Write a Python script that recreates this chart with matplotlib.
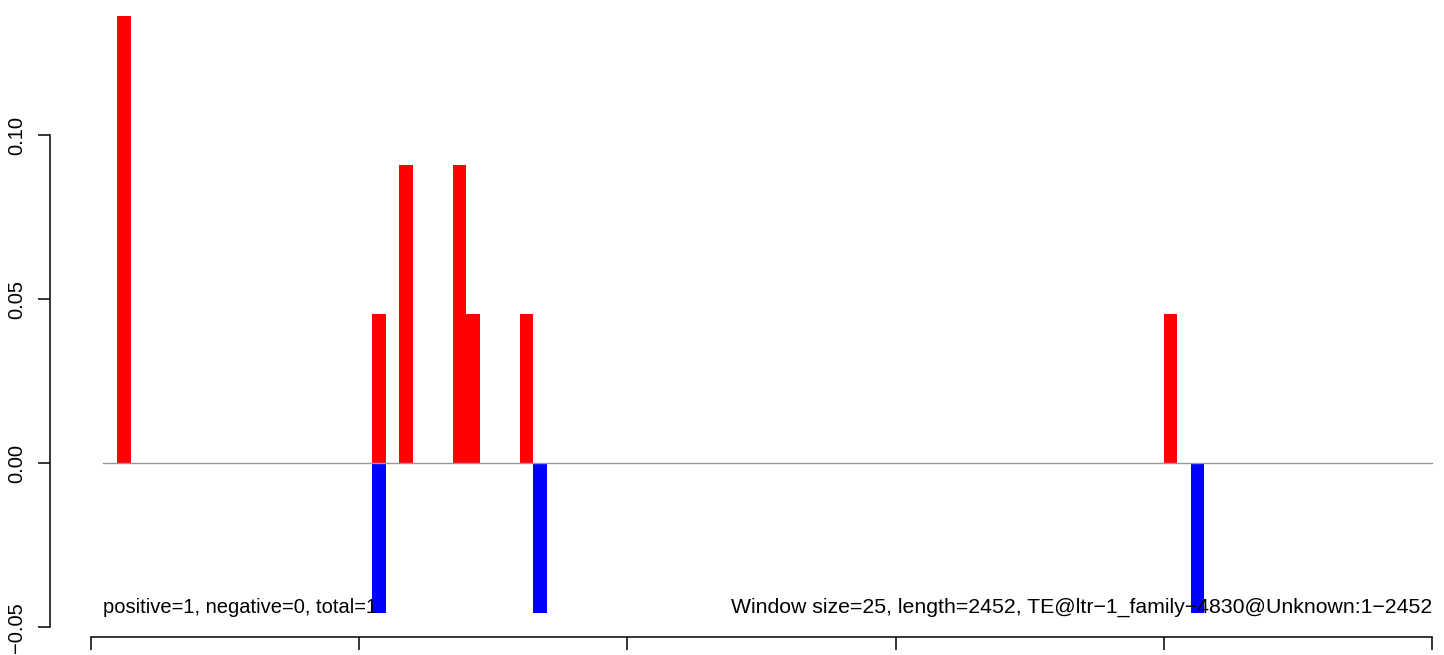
import numpy as np
import matplotlib
matplotlib.use("Agg")
import matplotlib.pyplot as plt

plt.rcParams['font.family'] = ['Liberation Sans', 'DejaVu Sans']

window = 25
length = 2452
# left edge of each window and its score
pos_start = [50, 525, 575, 675, 700, 800, 2000]
pos_value = [3/22, 1/22, 2/22, 2/22, 1/22, 1/22, 1/22]
neg_start = [525, 825, 2050]
neg_value = [1/22, 1/22, 1/22]

x_ticks = [0, 500, 1000, 1500, 2000, 2500]
y_ticks = [-0.05, 0.00, 0.05, 0.10]
y_labels = ['\u22120.05', '0.00', '0.05', '0.10']

left_text = 'positive=1, negative=0, total=1'
right_text = ('Window size=25, length=2452, '
              'TE@ltr\u22121_family\u22124830@Unknown:1\u22122452')

W, H = 1444, 655
fig = plt.figure(figsize=(W / 100, H / 100), dpi=100)
ax = fig.add_axes([50 / W, (H - 637) / H, (W - 50) / W, 637 / H])

ax.bar(pos_start, pos_value, width=window, align='edge', color='red', linewidth=0)
ax.bar(neg_start, [-v for v in neg_value], width=window, align='edge', color='blue', linewidth=0)
ax.plot([window - 2, 2500], [0, 0], color='#999999', linewidth=1)

ax.text(window - 2, -1/22, left_text, ha='left', va='baseline', fontsize=14.5)
ax.text(2500, -1/22, right_text, ha='right', va='baseline', fontsize=15.3)

ax.set_xlim(-75.5, 2522)
ax.set_ylim(-0.0529, 0.1413)

for s in ['top', 'right']:
    ax.spines[s].set_visible(False)
ax.spines['left'].set_bounds(-0.05, 0.10)
ax.spines['bottom'].set_bounds(0, 2500)
ax.spines['left'].set_linewidth(1.1)
ax.spines['bottom'].set_linewidth(1.1)

ax.set_xticks(x_ticks)
ax.set_xticklabels([])
ax.set_yticks(y_ticks)
ax.set_yticklabels(y_labels, rotation=90, va='center', fontsize=14.5)
ax.tick_params(axis='both', direction='out', length=9, width=1.1)
ax.tick_params(axis='y', pad=8)

fig.savefig('out.png', dpi=100)
